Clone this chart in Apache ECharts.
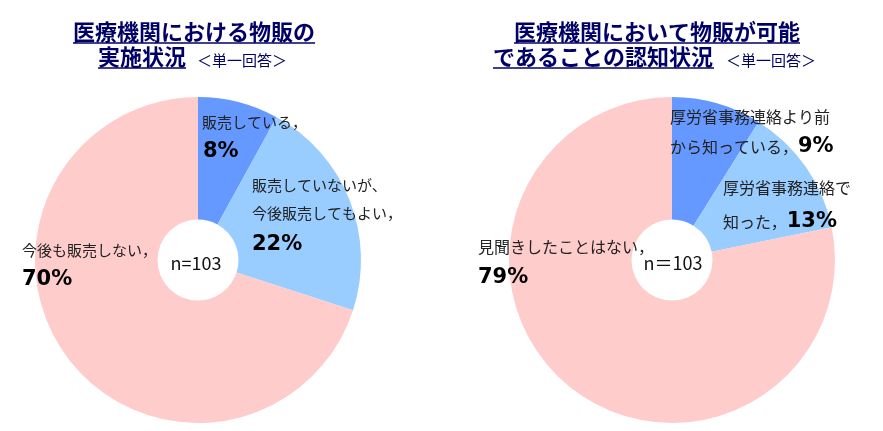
<!DOCTYPE html>
<html><head><meta charset="utf-8">
<script src="https://cdn.jsdelivr.net/npm/echarts@6/dist/echarts.min.js"></script>
<style>html,body{margin:0;padding:0;background:#fff}#c{width:883px;height:431px}</style>
</head><body><div id="c"></div>
<script>
// Left chart: 医療機関における物販の実施状況
var leftCategories = ['販売している', '販売していないが、今後販売してもよい', '今後も販売しない'];
var leftValues = [8, 22, 70];
// Right chart: 物販が可能であることの認知状況
var rightCategories = ['厚労省事務連絡より前から知っている', '厚労省事務連絡で知った', '見聞きしたことはない'];
var rightValues = [9, 13, 79];
var sliceColors = ['#6699FF', '#99CCFF', '#FFCCCC'];
var leftSample = 'n=103';
var rightSample = 'n＝103';

var chart = echarts.init(document.getElementById('c'), null, {renderer: 'canvas'});
var JP = '"Noto Sans CJK JP", sans-serif';
var titleColor = '#000066';

function pie(cx, cats, vals) {
  return {
    type: 'pie', silent: true, clockwise: true, startAngle: 90, z: 1,
    center: [cx, 260], radius: [40.5, 163],
    label: {show: false}, labelLine: {show: false},
    itemStyle: {borderWidth: 0},
    data: cats.map(function (c, i) { return {name: c, value: vals[i], itemStyle: {color: sliceColors[i]}}; })
  };
}
function txt(x, y, s, size, bold, color, align) {
  return {type: 'text', z: 100, x: x, y: y, style: {text: s, font: (bold ? 'bold ' : '') + size + 'px ' + JP,
    fill: color || '#222', textAlign: align || 'left', textVerticalAlign: 'middle'}};
}
function pct(v) { return v + '%'; }
function pctTxt(x, y, v) {
  return {type: 'text', z: 100, x: x, y: y, style: {text: pct(v), font: 'bold 21px "DejaVu Sans", sans-serif',
    fill: '#000', textAlign: 'left', textVerticalAlign: 'middle'}};
}
function rich(x, y, s, v, size) {
  return {type: 'text', z: 100, x: x, y: y, style: {text: '{a|' + s + '}{b|' + pct(v) + '}', textVerticalAlign: 'middle',
    rich: {a: {font: size + 'px ' + JP, fill: '#222', verticalAlign: 'middle'},
           b: {font: 'bold 21px "DejaVu Sans", sans-serif', fill: '#000', verticalAlign: 'middle'}}}};
}
function uline(x1, x2, y) {
  return {type: 'line', z: 100, shape: {x1: x1, y1: y, x2: x2, y2: y}, style: {stroke: titleColor, lineWidth: 1.5}};
}

var g = [
  // left titles
  txt(194, 32, '医療機関における物販の', 22, true, titleColor, 'center'),
  uline(73, 315, 43),
  txt(98, 57, '実施状況', 22, true, titleColor),
  uline(98, 186, 68),
  txt(197, 60, '＜単一回答＞', 15, false, titleColor),
  // right titles
  txt(657, 32, '医療機関において物販が可能', 22, true, titleColor, 'center'),
  uline(514, 800, 43),
  txt(493, 57, 'であることの認知状況', 22, true, titleColor),
  uline(493, 714, 68),
  txt(726, 60, '＜単一回答＞', 15, false, titleColor),
  // left labels
  txt(202, 122, '販売している，', 15),
  pctTxt(203, 152, leftValues[0]),
  txt(252, 185, '販売していないが、', 15),
  txt(252, 213, '今後販売してもよい，', 15),
  pctTxt(252, 245, leftValues[1]),
  txt(22, 250, '今後も販売しない，', 15),
  pctTxt(22, 280, leftValues[2]),
  txt(196, 263, leftSample, 18, false, '#111', 'center'),
  // right labels
  txt(670, 117, '厚労省事務連絡より前', 16),
  rich(670, 147, 'から知っている，', rightValues[0], 16),
  txt(723, 188, '厚労省事務連絡で', 16),
  rich(723, 222, '知った，', rightValues[1], 16),
  txt(478, 247, '見聞きしたことはない，', 16),
  pctTxt(478, 278, rightValues[2]),
  txt(673, 263, rightSample, 18, false, '#111', 'center')
];

chart.setOption({
  animation: false,
  series: [pie(198, leftCategories, leftValues), pie(672, rightCategories, rightValues)],
  graphic: {elements: g}
});
</script></body></html>
